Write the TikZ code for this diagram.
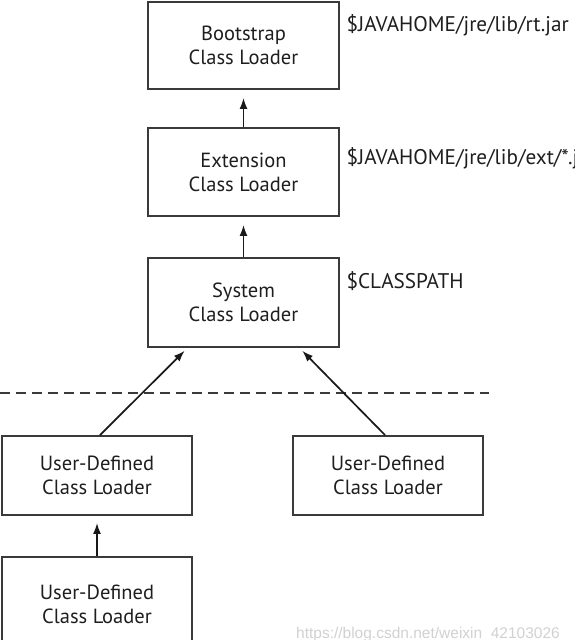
\documentclass[tikz,border=0pt]{standalone}
\usepackage{fontspec}
\setmainfont{PT Sans}
\newfontfamily\wmfont{Liberation Sans}
\usetikzlibrary{arrows.meta}
\definecolor{boxgray}{HTML}{3A3A3A}
\definecolor{txtgray}{HTML}{1E1E1E}
\newcommand{\boxwd}{191pt}

\begin{document}
\begin{tikzpicture}[x=1pt,y=-1pt,
  loader/.style={draw=boxgray, line width=1.9pt, minimum width=\boxwd, inner sep=0pt,
    align=center, text=txtgray, font=\fontsize{20.5}{24}\selectfont},
  path/.style={anchor=west, text=txtgray, font=\fontsize{21.2}{24}\selectfont},
  up/.style={-{Latex[length=11pt,width=8pt]}, line width=1.7pt, draw=black!90}]
\useasboundingbox (0,0) rectangle (574,640);
\clip (0,0) rectangle (574,640);
    % loader chain
\node (boot) at (243.5,45.5) [loader, minimum height=87pt] {Bootstrap\\Class Loader};
\node (ext)  at (243.5,172)  [loader, minimum height=88pt] {Extension\\Class Loader};
\node (sys)  at (243.5,302.5) [loader, minimum height=89pt] {System\\Class Loader};
\node (udl)  at (97,475.5)  [loader, minimum width=190pt, minimum height=79pt] {User-Defined\\Class Loader};
\node (udr)  at (388,475.5) [loader, minimum width=190pt, minimum height=79pt] {User-Defined\\Class Loader};
\node (udb)  at (97,604)    [loader, minimum width=190pt, minimum height=94pt] {User-Defined\\Class Loader};

\node (rtjar) at (343,25)  [path] {\$JAVAHOME/jre/lib/rt.jar};
\node (extjar) at (343,158) [path] {\$JAVAHOME/jre/lib/ext/*.jar};
\node (cp) at (343,281) [path] {\$CLASSPATH};

\coordinate (dl) at (0,393);
\coordinate (dr) at (489,393);
\draw[boxgray, line width=1.6pt, dash pattern=on 10pt off 6pt] (dl) -- (dr);

\draw[up, shorten >=8pt] (ext) -- (boot);
\draw[up, shorten >=8pt] (sys) -- (ext);
\draw[up, shorten >=4pt] ([xshift=3pt]udl.north) -- ([xshift=-56pt]sys.south);
\draw[up, shorten >=4pt] ([xshift=-3pt]udr.north) -- ([xshift=56pt]sys.south);
\draw[up, shorten >=7pt] (udb) -- (udl);

\node (wm) at (428,634) [text=black!18, font=\wmfont\fontsize{15.5}{18}\selectfont] {https://blog.csdn.net/weixin\_42103026};
\end{tikzpicture}
\end{document}
